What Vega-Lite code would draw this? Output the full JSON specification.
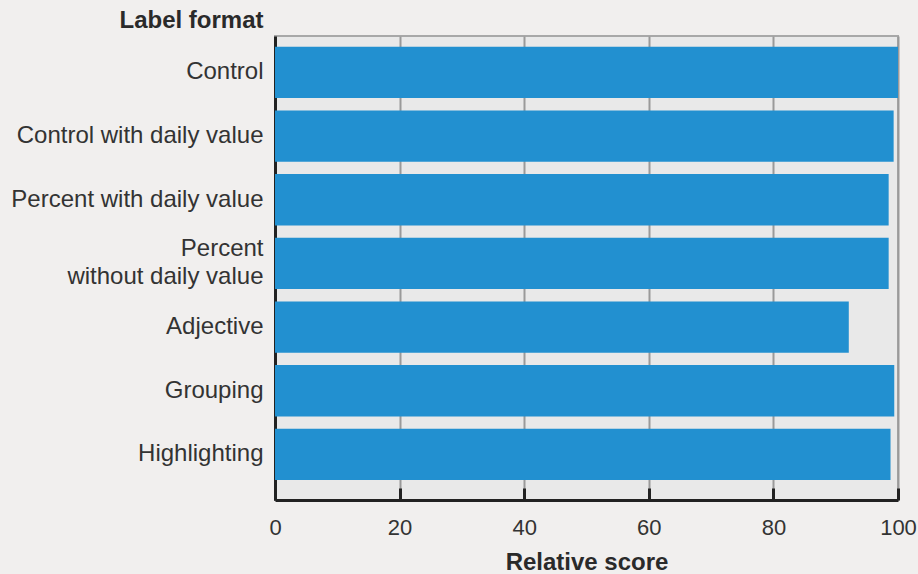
{
  "$schema": "https://vega.github.io/schema/vega-lite/v6.json",
  "autosize": "none",
  "width": 623,
  "height": 464,
  "padding": {"left": 275, "top": 36, "right": 20, "bottom": 74},
  "background": "#f1efee",
  "view": {"fill": "#e9e9e9", "stroke": "#a8a8a8", "strokeWidth": 2},
  "data": {
    "values": [
      {"format": "Control", "score": 100},
      {"format": "Control with daily value", "score": 99.3},
      {"format": "Percent with daily value", "score": 98.5},
      {"format": "Percent without daily value", "score": 98.5},
      {"format": "Adjective", "score": 92.1},
      {"format": "Grouping", "score": 99.4},
      {"format": "Highlighting", "score": 98.8}
    ]
  },
  "mark": {"type": "bar", "color": "#2290d0"},
  "encoding": {
    "y": {
      "field": "format",
      "type": "nominal",
      "sort": null,
      "scale": {"paddingInner": 0.194, "paddingOuter": 0.241, "align": 0.35},
      "axis": {
        "title": "Label format",
        "titleAngle": 0,
        "titleAlign": "right",
        "titleBaseline": "alphabetic",
        "titleX": -12,
        "titleY": -9,
        "titleFont": "Liberation Sans",
        "titleFontSize": 24,
        "titleFontWeight": "bold",
        "titleColor": "#2a2a2a",
        "labelFont": "Liberation Sans",
        "labelFontSize": 24,
        "labelColor": "#333333",
        "labelPadding": 12,
        "labelLimit": 400,
        "labelLineHeight": 28,
        "labelOffset": {"condition": {"test": "datum.value == 'Percent without daily value'", "value": -14}, "value": 0},
        "labelExpr": "datum.value == 'Percent without daily value' ? ['Percent', 'without daily value'] : datum.value",
        "ticks": false,
        "domainColor": "#222222",
        "domainWidth": 3,
        "grid": false
      }
    },
    "x": {
      "field": "score",
      "type": "quantitative",
      "scale": {"domain": [0, 100], "nice": false},
      "axis": {
        "title": "Relative score",
        "titleFont": "Liberation Sans",
        "titleFontSize": 24,
        "titleFontWeight": "bold",
        "titleColor": "#2a2a2a",
        "titlePadding": 12,
        "values": [0, 20, 40, 60, 80, 100],
        "labelFont": "Liberation Sans",
        "labelFontSize": 22,
        "labelColor": "#333333",
        "labelPadding": 29,
        "labelFlush": false,
        "tickSize": -12,
        "tickWidth": 3,
        "tickColor": "#222222",
        "domainColor": "#222222",
        "domainWidth": 3,
        "grid": true,
        "gridColor": "#9a9a9a",
        "gridWidth": 2
      }
    }
  }
}
